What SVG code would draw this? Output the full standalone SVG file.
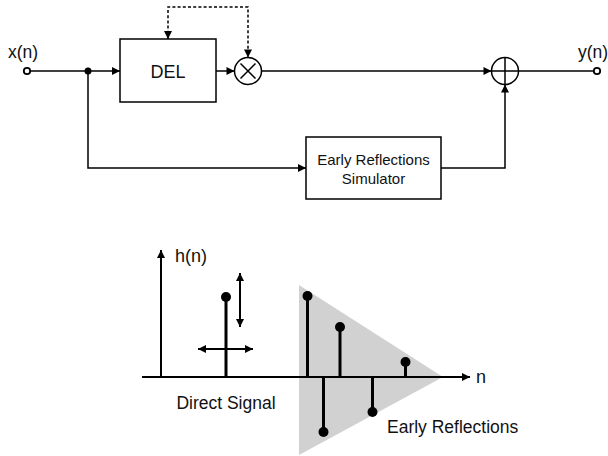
<svg xmlns="http://www.w3.org/2000/svg" width="608" height="456" viewBox="0 0 608 456">
<style>
.ln{fill:none;stroke:#000;stroke-width:1.5}
.dash{fill:none;stroke:#000;stroke-width:1.5;stroke-dasharray:3 2.2}
.box{fill:#fff;stroke:#000;stroke-width:1.5}
.t{font-family:"Liberation Sans",Arial,sans-serif;fill:#111}
.ax{fill:none;stroke:#000;stroke-width:2}
.stem{fill:none;stroke:#000;stroke-width:3}
</style>
<defs>
<marker id="ah" viewBox="0 0 10 10" refX="10" refY="5" markerWidth="10" markerHeight="8" markerUnits="userSpaceOnUse" orient="auto-start-reverse"><path d="M0,0 L10,5 L0,10 Z" fill="#000"/></marker>
<marker id="ah2" viewBox="0 0 10 10" refX="10" refY="5" markerWidth="10" markerHeight="8" markerUnits="userSpaceOnUse" orient="auto-start-reverse"><path d="M0,0 L10,5 L0,10 Z" fill="#000"/></marker>
</defs>

<g id="connectors">
<line class="ln" x1="30" y1="71" x2="120" y2="71" marker-end="url(#ah)"/>
<line class="ln" x1="216" y1="71" x2="234.5" y2="71" marker-end="url(#ah)"/>
<line class="ln" x1="261.5" y1="71" x2="491.5" y2="71" marker-end="url(#ah)"/>
<line class="ln" x1="518.5" y1="71" x2="594" y2="71"/>
<polyline class="ln" points="88,71 88,168 306,168" marker-end="url(#ah)"/>
<polyline class="ln" points="441,168 505,168 505,84.5" marker-end="url(#ah)"/>
<polyline class="dash" points="168,39 168,7 248,7 248,57.5" marker-start="url(#ah)" marker-end="url(#ah)"/>
<circle cx="88" cy="71" r="3.5" fill="#000"/>
</g>

<g id="input">
<circle cx="27" cy="71" r="3.2" fill="#fff" stroke="#000" stroke-width="1.8"/>
<text class="t" x="8" y="58" font-size="17.5">x(n)</text>
</g>

<g id="output">
<circle cx="597" cy="71" r="3.2" fill="#fff" stroke="#000" stroke-width="1.8"/>
<text class="t" x="578" y="58" font-size="17.5">y(n)</text>
</g>

<g id="del">
<rect class="box" x="120" y="39" width="96" height="63"/>
<text class="t" x="168" y="77.5" font-size="18" text-anchor="middle">DEL</text>
</g>

<g id="multiplier">
<circle class="ln" cx="248" cy="71" r="13.5"/>
<path class="ln" d="M240.5,63.5 L255.5,78.5 M255.5,63.5 L240.5,78.5"/>
</g>

<g id="adder">
<circle class="ln" cx="505" cy="71" r="13.5"/>
<path class="ln" d="M505,58 L505,84 M492,71 L518,71"/>
</g>

<g id="er">
<rect class="box" x="306" y="137" width="135" height="62"/>
<text class="t" x="373.5" y="165" font-size="15" text-anchor="middle">Early Reflections</text>
<text class="t" x="373.5" y="184" font-size="15" text-anchor="middle">Simulator</text>
</g>

<g id="plot">
<polygon points="299,285 443,377 299,455" fill="#d1d1d1"/>
<line class="ax" x1="161" y1="377" x2="161" y2="250" marker-end="url(#ah2)"/>
<line class="ax" x1="142" y1="377" x2="470" y2="377" marker-end="url(#ah2)"/>
<text class="t" x="175" y="262" font-size="18">h(n)</text>
<text class="t" x="476" y="383" font-size="18">n</text>
<line class="stem" x1="226" y1="377" x2="226" y2="297"/>
<circle cx="226" cy="297" r="5"/>
<line class="ax" x1="240" y1="273" x2="240" y2="327" marker-start="url(#ah2)" marker-end="url(#ah2)"/>
<line class="ax" x1="198" y1="349" x2="253" y2="349" marker-start="url(#ah2)" marker-end="url(#ah2)"/>
<line class="stem" x1="307.5" y1="377" x2="307.5" y2="296"/>
<circle cx="307.5" cy="296" r="5"/>
<line class="stem" x1="323.5" y1="377" x2="323.5" y2="432"/>
<circle cx="323.5" cy="432" r="5"/>
<line class="stem" x1="340" y1="377" x2="340" y2="327"/>
<circle cx="340" cy="327" r="5"/>
<line class="stem" x1="372.5" y1="377" x2="372.5" y2="412"/>
<circle cx="372.5" cy="412" r="5"/>
<line class="stem" x1="405.5" y1="377" x2="405.5" y2="362"/>
<circle cx="405.5" cy="362" r="5"/>
<text class="t" x="226" y="409" font-size="17.5" text-anchor="middle">Direct Signal</text>
<text class="t" x="387" y="433" font-size="17.5">Early Reflections</text>
</g>
</svg>
